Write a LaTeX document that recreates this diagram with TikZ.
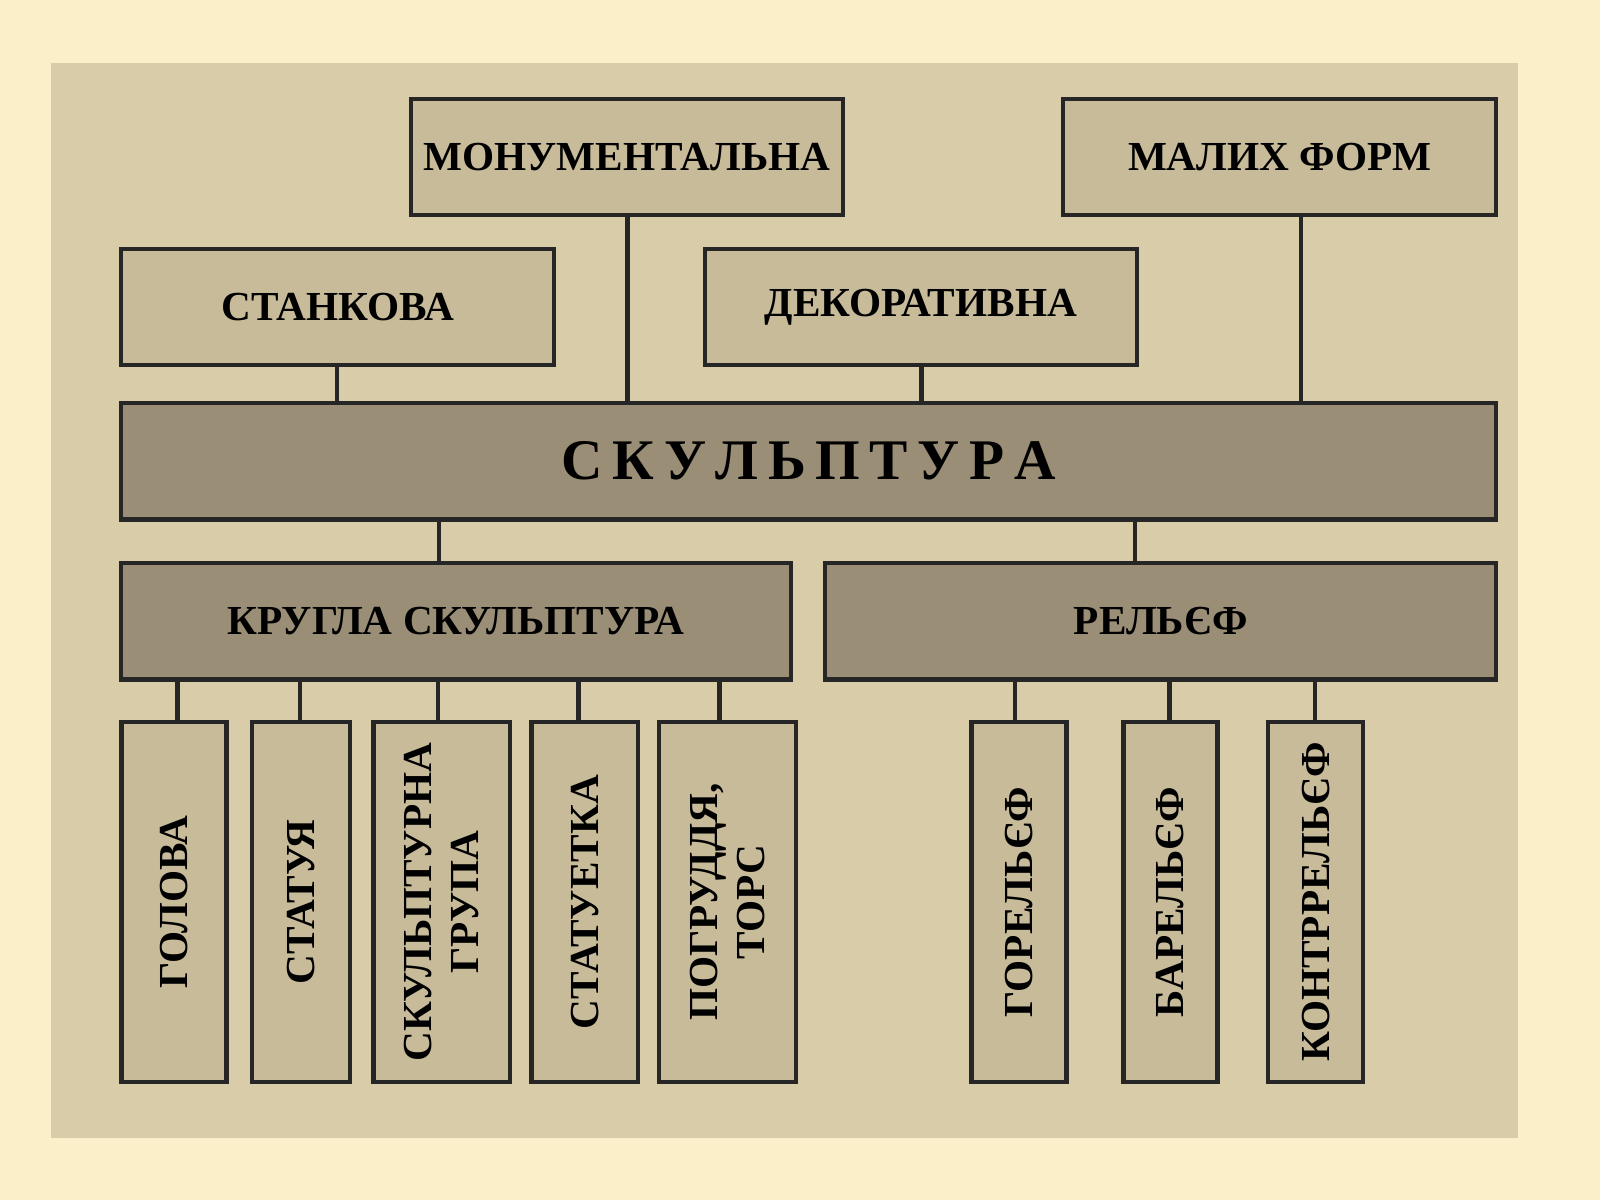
\documentclass[tikz,border=0pt]{standalone}
\usepackage{fontspec}
\setmainfont{Liberation Serif}
\usetikzlibrary{positioning}
\definecolor{pagebg}{HTML}{FAEFC8}
\definecolor{panel}{HTML}{D8CCA9}
\definecolor{lightbox}{HTML}{C7BB9A}
\definecolor{darkbox}{HTML}{9A8E76}
\tikzset{
  box/.style={draw=black!85, line width=1.2pt, fill=lightbox, inner sep=0pt,
    font=\fontsize{11.5}{13}\selectfont\bfseries, align=center},
  darkbox/.style={box, fill=darkbox},
  tallbox/.style={box, minimum width=3.52cm, rotate=90},
  link/.style={draw=black!85, line width=1.2pt}
}
\begin{document}
\begin{tikzpicture}[x=0.01cm, y=-0.01cm]
    % Background
    \fill[pagebg] (0,0) rectangle (1568,1176);
    \fill[panel] (50,62) rectangle (1488,1115);

    % Top row
    \node[box, minimum width=4.23cm, minimum height=1.14cm] (monum) at (614.5,154) {МОНУМЕНТАЛЬНА};
    \node[box, minimum width=4.24cm, minimum height=1.14cm] (small) at (1254,154) {МАЛИХ ФОРМ};
    \node[box, minimum width=4.24cm, minimum height=1.14cm] (easel) at (331,301) {СТАНКОВА};
    \node[box, minimum width=4.23cm, minimum height=1.14cm] (decor) at (902.5,301) {ДЕКОРАТИВНА};

    % Main
    \node[darkbox, minimum width=13.47cm, minimum height=1.14cm,
          font=\fontsize{16}{18}\selectfont\bfseries] (sculpt) at (792.5,452)
          {С\,К\,У\,Л\,Ь\,П\,Т\,У\,Р\,А};

    % Second level
    \node[darkbox, minimum width=6.56cm, minimum height=1.14cm] (round) at (447,609) {КРУГЛА СКУЛЬПТУРА};
    \node[darkbox, minimum width=6.57cm, minimum height=1.14cm] (relief) at (1137.5,609) {РЕЛЬЄФ};

    % Vertical boxes
    \node[tallbox, minimum height=1.03cm] (head) at (170.5,884) {ГОЛОВА};
    \node[tallbox, minimum height=0.96cm] (statue) at (295,884) {СТАТУЯ};
    \node[tallbox, minimum height=1.34cm] (group) at (433,884) {СКУЛЬПТУРНА\\ГРУПА};
    \node[tallbox, minimum height=1.04cm] (statuette) at (573,884) {СТАТУЕТКА};
    \node[tallbox, minimum height=1.34cm] (bust) at (713,884) {ПОГРУДДЯ,\\ТОРС};
    \node[tallbox, minimum height=0.93cm] (high) at (998.5,884) {ГОРЕЛЬЄФ};
    \node[tallbox, minimum height=0.92cm] (bas) at (1147,884) {БАРЕЛЬЄФ};
    \node[tallbox, minimum height=0.93cm] (counter) at (1289.5,884) {КОНТРРЕЛЬЄФ};

    % Connectors
    \draw[link] (easel.south -| 330,0) -- (sculpt.north -| 330,0);
    \draw[link] (monum.south -| 615,0) -- (sculpt.north -| 615,0);
    \draw[link] (decor.south -| 903,0) -- (sculpt.north -| 903,0);
    \draw[link] (small.south -| 1275,0) -- (sculpt.north -| 1275,0);
    \draw[link] (sculpt.south -| 430,0) -- (round.north -| 430,0);
    \draw[link] (sculpt.south -| 1112,0) -- (relief.north -| 1112,0);
    \foreach \n/\x in {head/174, statue/294, group/429, statuette/567, bust/705}
      \draw[link] (round.south -| \x,0) -- (\n.east -| \x,0);
    \foreach \n/\x in {high/995, bas/1146, counter/1289}
      \draw[link] (relief.south -| \x,0) -- (\n.east -| \x,0);
\end{tikzpicture}
\end{document}
